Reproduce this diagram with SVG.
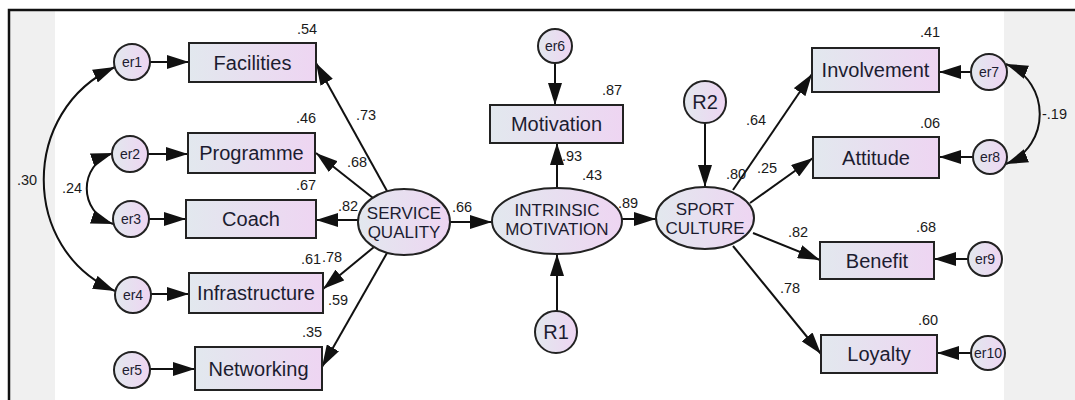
<svg xmlns="http://www.w3.org/2000/svg" width="1075" height="400" viewBox="0 0 1075 400">
<defs>
<linearGradient id="g" x1="0" y1="0" x2="1" y2="0">
<stop offset="0" stop-color="#e2e8ee"/>
<stop offset="1" stop-color="#eed5f2"/>
</linearGradient>
<marker id="ah" markerUnits="userSpaceOnUse" markerWidth="22" markerHeight="14" refX="22" refY="7" orient="auto-start-reverse" viewBox="0 0 22 14">
<path d="M0,0 L22,7 L0,14 z" fill="#111"/>
</marker>
</defs>
<style>
.bx{fill:url(#g);stroke:#222;stroke-width:2}
.nd text{font-family:"Liberation Sans",Arial,sans-serif;fill:#1c1c30;text-anchor:middle}
.t20{font-size:20px}
.t17{font-size:17px}
.t14{font-size:14px}
.cn path{fill:none;stroke:#111;stroke-width:2;marker-end:url(#ah)}
.cn path.cov{marker-start:url(#ah)}
.lb text{font-family:"Liberation Sans",Arial,sans-serif;font-size:14.5px;fill:#1a1a1a}
</style>
<rect x="0" y="0" width="1075" height="400" fill="#fff"/>
<rect x="10" y="11" width="45" height="389" fill="#f0f0f0"/>
<rect x="1004" y="11" width="71" height="389" fill="#f0f0f0"/>
<path d="M9,400 V10 H1075" fill="none" stroke="#111" stroke-width="2.5"/>

<g id="connectors" class="cn">
<path d="M150,62 H189"/>
<path d="M148,154 H188"/>
<path d="M149,219 H186"/>
<path d="M151,294 H189"/>
<path d="M150,369 H195"/>
<path d="M387,191 L316,63"/>
<path d="M373,198 L316,153"/>
<path d="M358,220 H316"/>
<path d="M374,247 L323,289"/>
<path d="M387,253 L322,367"/>
<path d="M450,222 H492"/>
<path d="M557,188 V143"/>
<path d="M555,63 V105"/>
<path d="M557,311 V254"/>
<path d="M622,219 H656"/>
<path d="M705,123 V187"/>
<path d="M733,190 L812,74"/>
<path d="M750,203 L813,158"/>
<path d="M753,233 L820,260"/>
<path d="M733,246 L821,354"/>
<path d="M971,72 H939"/>
<path d="M973,157 H939"/>
<path d="M968,259 H934"/>
<path d="M971,353 H937"/>
<path class="cov" d="M115,67 C20,110 20,250 115,291"/>
<path class="cov" d="M113,153 C78,165 78,212 113,224"/>
<path class="cov" d="M1006,64 C1051,82 1051,146 1006,164"/>
</g>

<g id="Facilities" class="nd"><rect class="bx" x="189" y="43" width="127" height="39"/><text class="t20" x="252.5" y="69.5">Facilities</text></g>
<g id="Programme" class="nd"><rect class="bx" x="188" y="133" width="127" height="40"/><text class="t20" x="251.5" y="160">Programme</text></g>
<g id="Coach" class="nd"><rect class="bx" x="186" y="200" width="130" height="38"/><text class="t20" x="251" y="226">Coach</text></g>
<g id="Infrastructure" class="nd"><rect class="bx" x="189" y="273" width="134" height="40"/><text class="t20" x="256" y="300">Infrastructure</text></g>
<g id="Networking" class="nd"><rect class="bx" x="195" y="347" width="127" height="43"/><text class="t20" x="258.5" y="375.5">Networking</text></g>
<g id="Motivation" class="nd"><rect class="bx" x="490" y="105" width="133" height="38"/><text class="t20" x="556.5" y="131">Motivation</text></g>
<g id="Involvement" class="nd"><rect class="bx" x="812" y="48" width="127" height="44"/><text class="t20" x="875.5" y="77">Involvement</text></g>
<g id="Attitude" class="nd"><rect class="bx" x="813" y="137" width="126" height="41"/><text class="t20" x="876" y="164.5">Attitude</text></g>
<g id="Benefit" class="nd"><rect class="bx" x="820" y="242" width="114" height="37"/><text class="t20" x="877" y="267.5">Benefit</text></g>
<g id="Loyalty" class="nd"><rect class="bx" x="821" y="335" width="116" height="38"/><text class="t20" x="879" y="361">Loyalty</text></g>

<g id="ServiceQuality" class="nd"><ellipse class="bx" cx="404" cy="222" rx="46" ry="33"/><text class="t17" x="404" y="219">SERVICE</text><text class="t17" x="404" y="238">QUALITY</text></g>
<g id="IntrinsicMotivation" class="nd"><ellipse class="bx" cx="557" cy="221" rx="65" ry="33"/><text class="t17" x="557" y="216">INTRINSIC</text><text class="t17" x="557" y="235">MOTIVATION</text></g>
<g id="SportCulture" class="nd"><ellipse class="bx" cx="705" cy="218" rx="49" ry="31"/><text class="t17" x="705" y="215">SPORT</text><text class="t17" x="705" y="234">CULTURE</text></g>

<g id="er1" class="nd"><circle class="bx" cx="132" cy="62" r="18"/><text class="t14" x="132" y="67">er1</text></g>
<g id="er2" class="nd"><circle class="bx" cx="130" cy="154" r="18"/><text class="t14" x="130" y="159">er2</text></g>
<g id="er3" class="nd"><circle class="bx" cx="131" cy="219" r="18"/><text class="t14" x="131" y="224">er3</text></g>
<g id="er4" class="nd"><circle class="bx" cx="133" cy="295" r="18"/><text class="t14" x="133" y="300">er4</text></g>
<g id="er5" class="nd"><circle class="bx" cx="132" cy="370" r="18"/><text class="t14" x="132" y="375">er5</text></g>
<g id="er6" class="nd"><circle class="bx" cx="555" cy="46" r="17"/><text class="t14" x="555" y="51">er6</text></g>
<g id="er7" class="nd"><circle class="bx" cx="989" cy="72" r="18"/><text class="t14" x="989" y="77">er7</text></g>
<g id="er8" class="nd"><circle class="bx" cx="990" cy="157" r="17"/><text class="t14" x="990" y="162">er8</text></g>
<g id="er9" class="nd"><circle class="bx" cx="985" cy="259" r="17"/><text class="t14" x="985" y="264">er9</text></g>
<g id="er10" class="nd"><circle class="bx" cx="988" cy="353" r="17"/><text class="t14" x="988" y="358">er10</text></g>
<g id="R1" class="nd"><circle class="bx" cx="556" cy="332" r="21"/><text class="t20" x="556" y="339">R1</text></g>
<g id="R2" class="nd"><circle class="bx" cx="705" cy="102" r="21"/><text class="t20" x="705" y="109">R2</text></g>

<g id="labels" class="lb">
<text x="297" y="34">.54</text>
<text x="296" y="123">.46</text>
<text x="296" y="190">.67</text>
<text x="17" y="185">.30</text>
<text x="62" y="193">.24</text>
<text x="301" y="264">.61</text>
<text x="322" y="262">.78</text>
<text x="328" y="305">.59</text>
<text x="302" y="337">.35</text>
<text x="356" y="120">.73</text>
<text x="347" y="167">.68</text>
<text x="338" y="211">.82</text>
<text x="452" y="212">.66</text>
<text x="602" y="95">.87</text>
<text x="562" y="161">.93</text>
<text x="582" y="180">.43</text>
<text x="618" y="208">.89</text>
<text x="746" y="125">.64</text>
<text x="726" y="179">.80</text>
<text x="757" y="173">.25</text>
<text x="788" y="237">.82</text>
<text x="780" y="293">.78</text>
<text x="920" y="37">.41</text>
<text x="920" y="128">.06</text>
<text x="1042" y="119">-.19</text>
<text x="916" y="232">.68</text>
<text x="918" y="325">.60</text>
</g>
</svg>
